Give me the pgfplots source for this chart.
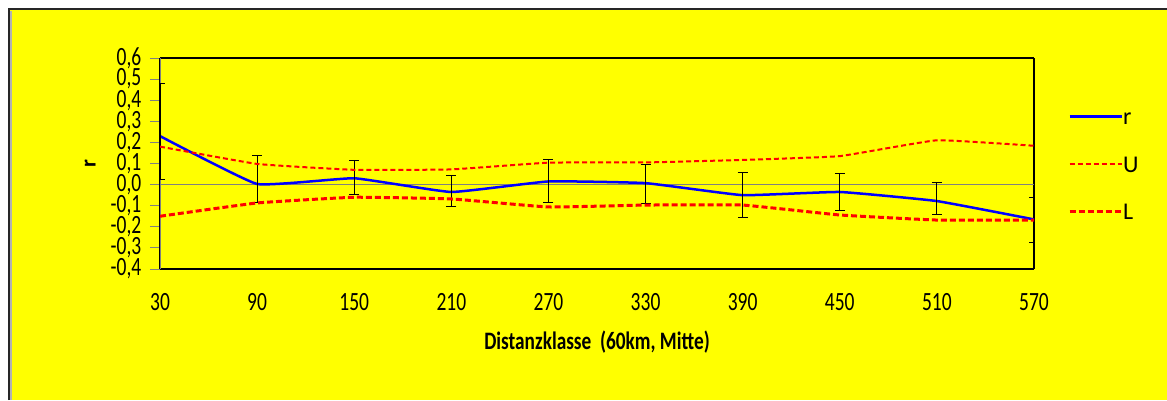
\documentclass[border=0pt]{standalone}
\usepackage{pgfplots}
\pgfplotsset{compat=1.18}
\usepackage{pgfplotstable}
\usepackage{fontspec}
\setmainfont{Carlito}
\definecolor{bgyellow}{RGB}{255,255,0}
\definecolor{lineblue}{RGB}{0,0,255}
\definecolor{linered}{RGB}{255,0,0}
\pgfplotstableread{
x   r      ep     em
30  0.230  0.250  0.208
90  0.003  0.136  0.089
150 0.030  0.082  0.079
210 -0.035 0.080  0.070
270 0.015  0.105  0.101
330 0.007  0.089  0.096
390 -0.050 0.108  0.105
450 -0.035 0.089  0.089
510 -0.078 0.089  0.062
570 -0.165 0.103  0.110
}\rdata
\pgfplotstableread{
x   u
30  0.180
90  0.098
150 0.070
210 0.072
270 0.104
330 0.105
390 0.117
450 0.135
510 0.210
570 0.184
}\udata
\pgfplotstableread{
x   l
30  -0.150
90  -0.087
150 -0.060
210 -0.068
270 -0.106
330 -0.097
390 -0.097
450 -0.144
510 -0.168
570 -0.168
}\ldata
\begin{document}
\begin{tikzpicture}
\useasboundingbox (0pt,0pt) rectangle (1167pt,400pt);
\fill[white] (0pt,0pt) rectangle (1167pt,400pt);
\fill[bgyellow] (9pt,0pt) rectangle (1167pt,391pt);
\draw[gray!60, line width=1.5pt] (11pt,0pt) -- (11pt,389pt);
\draw[black!85, line width=2pt] (9pt,0pt) -- (9pt,391pt) -- (1167pt,391pt);
\begin{axis}[
  at={(160pt,131pt)}, anchor=south west,
  scale only axis, width=874pt, height=211pt,
  xmin=30, xmax=570, ymin=-0.4, ymax=0.6,
  axis background/.style={fill=bgyellow},
  separate axis lines,
  x axis line style={black, line width=1.5pt},
  y axis line style={black, line width=1.5pt},
  xtick={30,90,150,210,270,330,390,450,510,570},
  ytick={-0.4,-0.3,-0.2,-0.1,0,0.1,0.2,0.3,0.4,0.5,0.6},
  xtick style={draw=none},
  ytick style={gray, line width=1pt},
  ytick pos=left,
  tick align=outside,
  major tick length=10pt,
  every tick label/.append style={font=\fontsize{19.5}{19.5}\selectfont, yscale=1.35, text=black},
  yticklabel style={/pgf/number format/.cd, fixed, fixed zerofill, precision=1, use comma, assume math mode=true, /tikz/.cd, inner sep=0.5pt, xshift=-8pt},
  xticklabel style={/pgf/number format/assume math mode=true, yshift=-7pt},
  xlabel={\textbf{Distanzklasse\ \ (60km, Mitte)}},
  every axis x label/.style={at={(axis description cs:0.5,-0.3445)}, anchor=center, font=\fontsize{19.3}{19.3}\selectfont, yscale=1.3},
  ylabel={\textbf{r}},
  every axis y label/.style={at={(axis description cs:-0.08,0.5)}, anchor=center, rotate=90, font=\fontsize{22}{22}\selectfont},
  legend style={draw=none, fill=none, at={(axis description cs:1.0389,0.4976)}, anchor=west,
    inner sep=0pt, outer sep=0pt, row sep=31pt, font=\fontsize{24}{24}\selectfont,
    nodes={inner sep=0pt, text height=16.5pt, text depth=0pt}},
  legend cell align=left,
  legend image code/.code={\draw[#1] (0pt,0pt) -- (52pt,0pt);},
  /tikz/every even column/.append style={column sep=5pt},
]
\draw[gray, line width=1pt] (axis cs:30,0) -- (axis cs:570,0);
\draw[gray, line width=1pt] (rel axis cs:0,0) -- (rel axis cs:0,1);
\addplot[lineblue, line width=2.5pt, smooth, tension=0.2,
  error bars/.cd, y dir=both, y explicit,
  error bar style={black, line width=1pt, solid},
  error mark options={black, rotate=90, mark size=5pt, line width=1pt}]
  table[x=x, y=r, y error plus=ep, y error minus=em] {\rdata};
\addlegendentry{r}
\addplot[linered, line width=2pt, dash pattern=on 5pt off 3pt, smooth, tension=0.2]
  table[x=x, y=u] {\udata};
\addlegendentry{U}
\addplot[linered, line width=3pt, dash pattern=on 6pt off 3pt, smooth, tension=0.2]
  table[x=x, y=l] {\ldata};
\addlegendentry{L}
\end{axis}
\end{tikzpicture}
\end{document}
